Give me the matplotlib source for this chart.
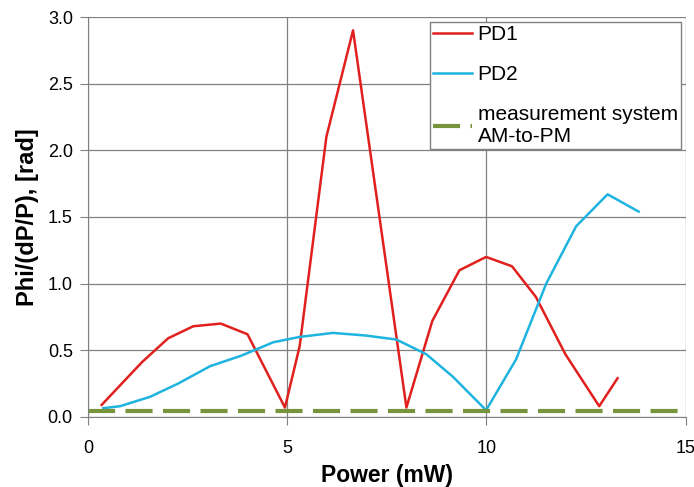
import numpy as np
import matplotlib.pyplot as plt

plt.rcParams['font.family'] = ['Liberation Sans', 'DejaVu Sans']

# PD1 readings
pd1_power = [0.34, 1.35, 2.01, 2.64, 3.33, 4.0, 4.94, 5.31, 5.98, 6.65,
             7.99, 8.64, 9.32, 9.99, 10.64, 11.24, 11.98, 12.83, 13.29]
pd1_phi = [0.09, 0.41, 0.59, 0.68, 0.70, 0.62, 0.07, 0.53, 2.10, 2.90,
           0.07, 0.72, 1.10, 1.20, 1.13, 0.90, 0.47, 0.08, 0.29]

# PD2 readings
pd2_power = [0.38, 0.80, 1.55, 2.26, 3.06, 3.85, 4.65, 5.31, 6.15, 6.98,
             7.74, 8.49, 9.16, 9.99, 10.74, 11.5, 12.25, 13.04, 13.82]
pd2_phi = [0.065, 0.08, 0.15, 0.25, 0.38, 0.46, 0.56, 0.60, 0.63, 0.61,
           0.58, 0.47, 0.30, 0.05, 0.43, 1.0, 1.43, 1.67, 1.54]

# measurement system floor
sys_power = [0, 15]
sys_phi = [0.045, 0.045]

fig = plt.figure(figsize=(6.94, 4.87), dpi=100)
ax = fig.add_axes([0.127, 0.144, 0.861, 0.821])

ax.plot(pd1_power, pd1_phi, color='#E0201E', lw=1.8, label='PD1')
ax.plot(pd2_power, pd2_phi, color='#1FB4E0', lw=1.8, label='PD2')
ax.plot(sys_power, sys_phi, color='#77933C', lw=3, ls=(0, (6.5, 2.5)),
        label='measurement system\nAM-to-PM')

ax.set_xlim(0, 15)
ax.set_ylim(0, 3.0)
ax.set_xticks([0, 5, 10, 15])
ax.set_yticks(np.arange(0, 3.01, 0.5))
ax.set_yticklabels(['%.1f' % v for v in np.arange(0, 3.01, 0.5)])
ax.grid(True, color='#808080', lw=0.9)
ax.set_axisbelow(True)
for s in ['top', 'right']:
    ax.spines[s].set_visible(False)
for s in ['left', 'bottom']:
    ax.spines[s].set_color('#808080')
ax.tick_params(labelsize=13, color='#808080', length=6, pad=5)
ax.tick_params(axis='x', pad=11)

ax.set_xlabel('Power (mW)', fontsize=16.5, fontweight='bold', labelpad=5)
ax.set_ylabel('Phi/(dP/P), [rad]', fontsize=17, fontweight='bold', labelpad=6)

leg = ax.legend(loc='upper right', bbox_to_anchor=(0.992, 0.987), fontsize=15,
                handlelength=1.9, handletextpad=0.25, labelspacing=1.0,
                fancybox=False, framealpha=1, borderpad=0.15, borderaxespad=0)
leg.get_frame().set_edgecolor('#808080')

fig.savefig('out.png', dpi=100)
